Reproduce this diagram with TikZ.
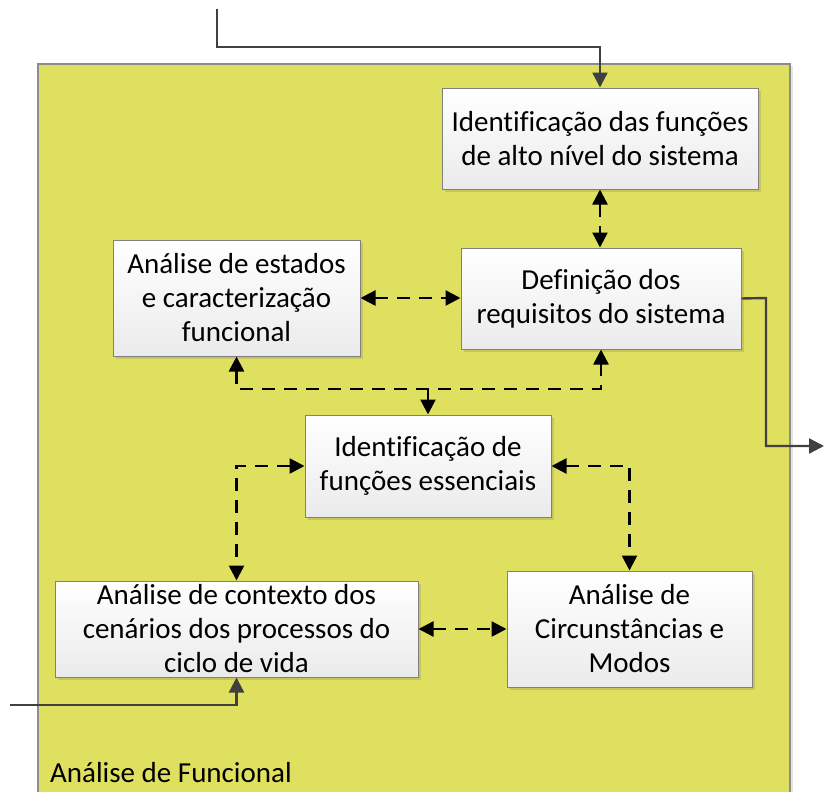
\documentclass[tikz,border=0pt]{standalone}
\usepackage{fontspec}
\setmainfont{Carlito}[Ligatures=NoCommon]
\usetikzlibrary{arrows.meta,shadows}
\definecolor{bgyellow}{HTML}{E0E060}
\definecolor{shadowy}{HTML}{C9C55E}
\definecolor{connGray}{HTML}{404040}
\definecolor{boxBorder}{HTML}{808080}
\begin{document}
\begin{tikzpicture}[x=1pt,y=-1pt,
  box/.style={draw=boxBorder, line width=1pt, top color=white, bottom color=black!8,
    align=center, inner sep=0pt,
    font=\fontsize{29}{34}\selectfont,
    drop shadow={shadow xshift=3pt, shadow yshift=-3pt, fill=shadowy, opacity=1}},
  dlink/.style={line width=2.6pt, dash pattern=on 13pt off 9pt,
    {Triangle[length=15pt,width=15pt]}-{Triangle[length=15pt,width=15pt]}},
  slink/.style={line width=2.6pt, dash pattern=on 13pt off 9pt, -{Triangle[length=15pt,width=15pt]}},
  flow/.style={draw=connGray, line width=2.4pt, -{Triangle[length=15pt,width=15pt]}}
]
\useasboundingbox (0,0) rectangle (824,792);
% container
\fill[bgyellow] (38,64) rectangle (790,792);
\draw[black!45, line width=1.5pt] (38,792) -- (38,64) -- (790,64) -- (790,792);
\draw[black!10, line width=2pt] (792,66) -- (792,792);
\node[anchor=base west, font=\fontsize{29}{34}\selectfont, inner sep=0pt] (lbl) at (50,782) {Análise de Funcional};

% boxes
\node[box, minimum width=316pt, minimum height=101pt] (b1) at (600,138.5) {Identificação das funções\\de alto nível do sistema};
\node[box, minimum width=280pt, minimum height=101pt] (b2) at (601,298.5) {Definição dos\\requisitos do sistema};
\node[box, minimum width=247pt, minimum height=116pt] (b3) at (236.5,298) {Análise de estados\\e caracterização\\funcional};
\node[box, minimum width=246pt, minimum height=102pt] (b4) at (428,466) {Identificação de\\funções essenciais};
\node[box, minimum width=363pt, minimum height=96pt] (b5) at (236.5,629) {Análise de contexto dos\\cenários dos processos do\\ciclo de vida};
\node[box, minimum width=245pt, minimum height=116pt] (b6) at (629.5,629) {Análise de\\Circunstâncias e\\Modos};

% coordinates
\coordinate (topin) at (217,9);
\coordinate (topbend) at (217,47);
\coordinate (bus) at (428,389);
\coordinate (outbend) at (766,298);
\coordinate (out) at (824,446);
\coordinate (leftin) at (10,705);

% dashed links
\draw[dlink] (b1.south) -- (b1.south |- b2.north);
\draw[dlink] (b3.east) -- (b3.east -| b2.west);
\draw[dlink] (b3.south) -- (b3.south |- bus) -- (b2.south |- bus) -- (b2.south);
\draw[slink] (bus) -- (b4.north);
\draw[dlink] (b4.west) -| (b5.north);
\draw[dlink] (b4.east) -| (b6.north);
\draw[dlink] (b5.east) -- (b5.east -| b6.west);

% solid flows
\draw[flow] (topin) -- (topbend) -| (b1.north);
\draw[flow] (b2.east) -- (outbend) |- (out);
\draw[flow] (leftin) -| (b5.south);
\end{tikzpicture}
\end{document}
